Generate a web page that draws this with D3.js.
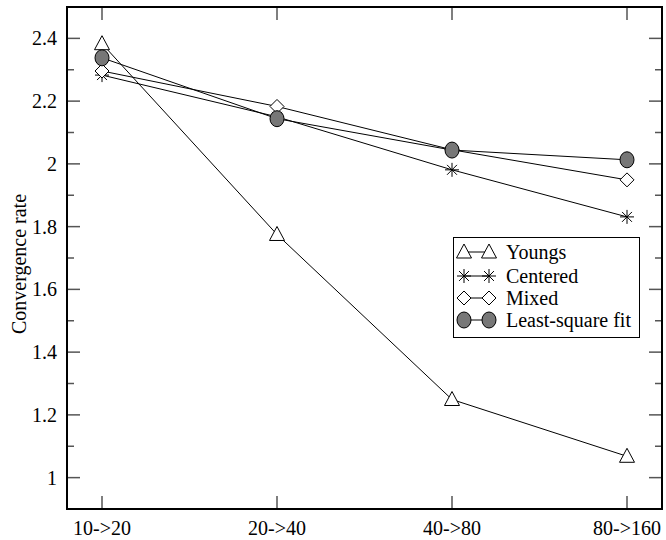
<!DOCTYPE html>
<meta charset="utf-8">

<style>
body{
	background-color: #fff;
	margin: 0px;
}
</style>

<body></body>

<script src="https://cdn.jsdelivr.net/npm/d3@7"></script>

<script>

var categories = ['10->20', '20->40', '40->80', '80->160']

var youngs   = [2.383, 1.775, 1.249, 1.068]
var centered = [2.283, 2.150, 1.981, 1.831]
var mixed    = [2.296, 2.183, 2.045, 1.949]
var lsf      = [2.338, 2.144, 2.044, 2.013]

var yTicks = [1, 1.2, 1.4, 1.6, 1.8, 2, 2.2, 2.4]
var yMinor = [1.1, 1.3, 1.5, 1.7, 1.9, 2.1, 2.3]

var series = [
	{name: 'Youngs', values: youngs, sym: 'tri'},
	{name: 'Centered', values: centered, sym: 'star'},
	{name: 'Mixed', values: mixed, sym: 'diamond'},
	{name: 'Least-square fit', values: lsf, sym: 'circle'}
]

var width = 666, height = 540,
		pLeft = 67, pRight = 662, pTop = 7, pBottom = 509,
		serif = 'Liberation Serif'

var svg = d3.select('body')
	.append('svg')
		.attr('width', width)
		.attr('height', height)

var x = d3.scaleLinear().domain([-0.2, 3.2]).range([pLeft, pRight])
var y = d3.scaleLinear().domain([0.9, 2.5]).range([pBottom, pTop])

// ticks, all sides pointing in
var tickColor = '#555'
function tickLines(vals, len){
	var g = svg.append('g').attr('stroke', tickColor).attr('stroke-width', 1.5)
	vals.forEach(function(v){
		g.append('line').attr('x1', pLeft).attr('x2', pLeft + len).attr('y1', y(v)).attr('y2', y(v))
		g.append('line').attr('x1', pRight).attr('x2', pRight - len).attr('y1', y(v)).attr('y2', y(v))
	})
}
tickLines(yTicks, 13)
tickLines(yMinor, 7)

var xt = svg.append('g').attr('stroke', tickColor).attr('stroke-width', 1.5)
categories.forEach(function(c, i){
	xt.append('line').attr('x1', x(i)).attr('x2', x(i)).attr('y1', pBottom).attr('y2', pBottom - 13)
	xt.append('line').attr('x1', x(i)).attr('x2', x(i)).attr('y1', pTop).attr('y2', pTop + 13)
})

// tick labels
svg.append('g').selectAll('text').data(yTicks).enter().append('text')
	.attr('x', pLeft - 10)
	.attr('y', function(d){ return y(d) })
	.attr('dy', '0.35em')
	.attr('text-anchor', 'end')
	.attr('font-family', serif)
	.attr('font-size', 20)
	.text(function(d){ return d3.format('')(d) })

svg.append('g').selectAll('text').data(categories).enter().append('text')
	.attr('x', function(d, i){ return x(i) })
	.attr('y', pBottom + 26)
	.attr('text-anchor', 'middle')
	.attr('font-family', serif)
	.attr('font-size', 20)
	.text(function(d){ return d })

svg.append('text')
	.attr('transform', 'translate(26,264) rotate(-90)')
	.attr('text-anchor', 'middle')
	.attr('font-family', serif)
	.attr('font-size', 20)
	.text('Convergence rate')

// symbols
function drawSym(g, sym, cx, cy){
	if (sym == 'tri'){
		g.append('path')
			.attr('d', 'M' + cx + ',' + (cy - 8) + 'L' + (cx + 7.5) + ',' + (cy + 6) + 'L' + (cx - 7.5) + ',' + (cy + 6) + 'Z')
			.attr('fill', '#fff').attr('stroke', '#000').attr('stroke-width', 1)
	} else if (sym == 'diamond'){
		g.append('path')
			.attr('d', 'M' + cx + ',' + (cy - 7) + 'L' + (cx + 7) + ',' + cy + 'L' + cx + ',' + (cy + 7) + 'L' + (cx - 7) + ',' + cy + 'Z')
			.attr('fill', '#fff').attr('stroke', '#000').attr('stroke-width', 1)
	} else if (sym == 'circle'){
		g.append('ellipse')
			.attr('cx', cx).attr('cy', cy).attr('rx', 7).attr('ry', 8)
			.attr('fill', '#777').attr('stroke', '#000').attr('stroke-width', 1)
	} else {
		var r = 7
		d3.range(4).forEach(function(k){
			var a = k * Math.PI / 4
			g.append('line')
				.attr('x1', cx - r * Math.sin(a)).attr('y1', cy - r * Math.cos(a))
				.attr('x2', cx + r * Math.sin(a)).attr('y2', cy + r * Math.cos(a))
				.attr('stroke', '#000').attr('stroke-width', 1)
		})
	}
}

var line = d3.line()
	.x(function(d, i){ return x(i) })
	.y(function(d){ return y(d) })

series.forEach(function(s){
	var g = svg.append('g')
	g.append('path')
		.attr('d', line(s.values))
		.attr('fill', 'none')
		.attr('stroke', '#000')
		.attr('stroke-width', 1)
	s.values.forEach(function(v, i){ drawSym(g, s.sym, x(i), y(v)) })
})

// legend
var lg = svg.append('g')
lg.append('rect')
	.attr('x', 453.5).attr('y', 237.5).attr('width', 186).attr('height', 100)
	.attr('fill', '#fff').attr('stroke', '#000').attr('stroke-width', 1)
var rowY = [252, 276, 298, 320]
series.forEach(function(s, i){
	var yy = rowY[i]
	lg.append('line').attr('x1', 464).attr('x2', 489).attr('y1', yy).attr('y2', yy)
		.attr('stroke', '#000').attr('stroke-width', 1)
	drawSym(lg, s.sym, 464, yy)
	drawSym(lg, s.sym, 489, yy)
	lg.append('text')
		.attr('x', 506).attr('y', yy).attr('dy', '0.35em')
		.attr('font-family', serif)
		.attr('font-size', 20)
		.text(s.name)
})

// frame
svg.append('rect')
	.attr('x', pLeft).attr('y', pTop)
	.attr('width', pRight - pLeft).attr('height', pBottom - pTop)
	.attr('fill', 'none').attr('stroke', '#000').attr('stroke-width', 2)

</script>
